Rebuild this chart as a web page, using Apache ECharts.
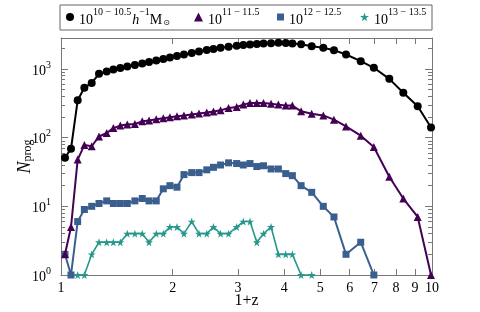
<!DOCTYPE html>
<html><head><meta charset="utf-8">
<script src="https://cdn.jsdelivr.net/npm/echarts@6/dist/echarts.min.js"></script>
<style>html,body{margin:0;padding:0;background:#fff}#c{width:480px;height:312px}</style>
</head><body><div id="c"></div>
<script>
// 1+z sampling grid (shared by all series)
const onePlusZ = [1.025, 1.064, 1.109, 1.156, 1.210, 1.266, 1.328, 1.384, 1.445, 1.509, 1.582, 1.656, 1.727, 1.806, 1.887, 1.966, 2.054, 2.145, 2.251, 2.355, 2.471, 2.576, 2.692, 2.829, 2.975, 3.100, 3.232, 3.371, 3.514, 3.683, 3.854, 4.034, 4.204, 4.438, 4.740, 5.093, 5.442, 5.865, 6.425, 6.970, 7.672, 8.369, 9.151, 9.940];
// N_prog for each host-mass bin
const nMass10 = [51, 69, 350, 532, 628, 851, 920, 984, 1035, 1087, 1143, 1202, 1263, 1330, 1400, 1472, 1550, 1628, 1712, 1800, 1895, 1960, 2039, 2110, 2180, 2240, 2280, 2320, 2355, 2380, 2410, 2395, 2355, 2302, 2153, 2039, 1881, 1628, 1301, 1042, 719, 450, 287, 141];
const nMass11 = [2, 5, 48, 78, 75, 104, 117, 138, 150, 155, 158, 173, 178, 185, 192, 198, 205, 210, 218, 225, 232, 240, 250, 271, 280, 303, 320, 320, 320, 313, 303, 294, 294, 242, 223, 211, 183, 146, 107, 73, 27, 13, 7, 1];
const nMass12 = [2, 1, 6, 9, 10, 11, 12, 11, 11, 11, 12, 13, 12, 12, 18, 20, 19, 29, 31, 31, 34, 37, 40, 43, 42, 40, 42, 38, 39, 35, 35, 30, 28, 20, 16, 10, 7, 2, 3, 1];
const nMass13 = [1, 1, 2, 3, 3, 3, 3, 4, 4, 4, 3, 4, 4, 5, 5, 4, 6, 4, 4, 5, 4, 4, 5, 6, 6, 3, 4, 5, 2, 2, 2, 1, 1];
const startIndex = [0, 0, 0, 2];
// axes
const xTicks = [1, 2, 3, 4, 5, 6, 7, 8, 9, 10];
const yMajor = [1, 10, 100, 1000];
const yMinor = [2,3,4,5,6,7,8,9,20,30,40,50,60,70,80,90,200,300,400,500,600,700,800,900,2000];
const xRange = [1, 10];
const yRange = [1, 2830];
const seriesNames = ['m10', 'm11', 'm12', 'm13'];
const legendLabels = [
  '{b|10}{s|10 − 10.5}{i|h}{s|−1}{b|M}{u|⊙}',
  '{b|10}{s|11 − 11.5}',
  '{b|10}{s|12 − 12.5}',
  '{b|10}{s|13 − 13.5}'
];

const FONT = 'Liberation Serif';
const AX = '#777';
const colors = ['#000000', '#440154', '#3a5f8e', '#25988b'];
const STAR = 'path://M50,0 L61.8,35.1 L98.1,35.1 L68.2,56.7 L79.4,91.2 L50,70 L20.6,91.2 L31.8,56.7 L1.9,35.1 L38.2,35.1 Z';
const symbols = ['circle', 'triangle', 'rect', STAR];
const symSizes = [8, 8, 7, 8];
const lineWidths = [2, 2, 2, 1.6];
const allSeries = [nMass10, nMass11, nMass12, nMass13];

const lg = Math.log10;
const LYMAX = lg(yRange[1]);

function pairs(vals, start) { return vals.map((v, i) => [onePlusZ[start + i], v]); }

const rich = {
  b: {fontFamily: FONT, fontSize: 14, lineHeight: 20, verticalAlign: 'bottom', color: '#000'},
  i: {fontFamily: FONT, fontSize: 14, fontStyle: 'italic', lineHeight: 20, verticalAlign: 'bottom', color: '#000', padding: [0, 0, 0, 1]},
  s: {fontFamily: FONT, fontSize: 10, lineHeight: 12, verticalAlign: 'top', color: '#000'},
  u: {fontFamily: 'DejaVu Sans', fontSize: 8, lineHeight: 12, verticalAlign: 'bottom', color: '#000', padding: [0, 0, 0, 1]}
};

const frameAxis = (pos, extra) => Object.assign({
  type: 'value', position: pos,
  axisLine: {show: true, onZero: false, lineStyle: {color: AX, width: 1}},
  splitLine: {show: false},
  axisLabel: {show: false}
}, extra);

const legendLeft = [66, 194, 277, 360];
const legendW = [8, 9, 7, 9];

const option = {
  animation: false,
  backgroundColor: '#fff',
  grid: {left: 61, right: 48, top: 38, bottom: 37, outerBoundsMode: 'none', containLabel: false},
  graphic: [{type: 'rect', z: -10, shape: {x: 60, y: 5, width: 372, height: 25}, style: {fill: 'transparent', stroke: '#666', lineWidth: 1}}],
  legend: seriesNames.map((n, i) => ({
    left: legendLeft[i], top: 7, padding: 0,
    itemWidth: legendW[i], itemHeight: legendW[i],
    selectedMode: false,
    data: [{name: n, icon: symbols[i]}],
    formatter: () => legendLabels[i],
    textStyle: {fontFamily: FONT, fontSize: 14, color: '#000', rich: rich}
  })),
  xAxis: [
    {type: 'log', logBase: 10, min: xRange[0], max: xRange[1], show: false},
    frameAxis('bottom', {
      min: 0, max: 1,
      axisTick: {show: true, inside: true, length: 6, customValues: xTicks.map(lg), lineStyle: {color: AX}},
      axisLabel: {show: true, customValues: xTicks.map(lg), showMinLabel: true, showMaxLabel: true,
        formatter: v => String(Math.round(Math.pow(10, v))), margin: 6,
        fontFamily: FONT, fontSize: 14, color: '#000'},
      name: '1+z', nameLocation: 'middle', nameGap: 18, nameMoveOverlap: false,
      nameTextStyle: {fontFamily: FONT, fontSize: 16, color: '#000'}
    }),
    frameAxis('top', {
      min: 0, max: 1,
      axisTick: {show: true, inside: true, length: 6, customValues: xTicks.map(lg), lineStyle: {color: AX}}
    })
  ],
  yAxis: [
    {type: 'log', logBase: 10, min: yRange[0], max: yRange[1], show: false},
    frameAxis('left', {
      min: 0, max: LYMAX,
      axisTick: {show: true, inside: true, length: 7, customValues: yMajor.map(lg), lineStyle: {color: AX}},
      axisLabel: {show: true, customValues: yMajor.map(lg), showMinLabel: true,
        formatter: v => '{b|10}{s|' + Math.round(v) + '}', margin: 10,
        rich: {
          b: {fontFamily: FONT, fontSize: 14, lineHeight: 18, verticalAlign: 'bottom', color: '#000'},
          s: {fontFamily: FONT, fontSize: 10, lineHeight: 10, verticalAlign: 'top', color: '#000'}
        }},
      name: '{n|N}{p|prog}', nameLocation: 'middle', nameRotate: 90, nameGap: 27, nameMoveOverlap: false,
      nameTextStyle: {rich: {
        n: {fontFamily: FONT, fontSize: 18, fontStyle: 'italic', lineHeight: 22, verticalAlign: 'bottom', color: '#000'},
        p: {fontFamily: FONT, fontSize: 12, lineHeight: 11, verticalAlign: 'bottom', color: '#000'}
      }}
    }),
    frameAxis('left', {
      min: 0, max: LYMAX, axisLine: {show: false, onZero: false},
      axisTick: {show: true, inside: true, length: 4, customValues: yMinor.map(lg), lineStyle: {color: AX}}
    }),
    frameAxis('right', {
      min: 0, max: LYMAX,
      axisTick: {show: true, inside: true, length: 7, customValues: yMajor.map(lg), lineStyle: {color: AX}}
    }),
    frameAxis('right', {
      min: 0, max: LYMAX, axisLine: {show: false, onZero: false},
      axisTick: {show: true, inside: true, length: 4, customValues: yMinor.map(lg), lineStyle: {color: AX}}
    })
  ],
  series: allSeries.map((vals, i) => ({
    type: 'line', name: seriesNames[i], xAxisIndex: 0, yAxisIndex: 0,
    data: pairs(vals, startIndex[i]),
    symbol: symbols[i], symbolSize: symSizes[i], showSymbol: true,
    lineStyle: {color: colors[i], width: lineWidths[i]},
    itemStyle: {color: colors[i]},
    z: 10 - i
  }))
};

const chart = echarts.init(document.getElementById('c'), null, {renderer: 'canvas'});
chart.setOption(option);
</script>
</body></html>
